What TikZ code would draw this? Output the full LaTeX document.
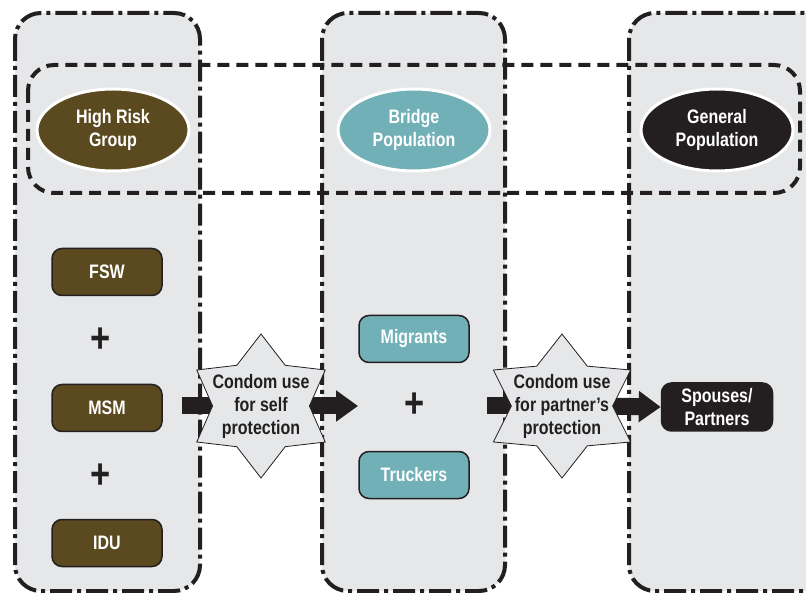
\documentclass[tikz,border=0pt]{standalone}
\usepackage{fontspec}
\setmainfont[FakeStretch=0.82]{Liberation Sans}
\usetikzlibrary{arrows.meta,calc,shapes.geometric}
\definecolor{colgray}{HTML}{E6E7E8}
\definecolor{hrbrown}{HTML}{5B4A1F}
\definecolor{tealc}{HTML}{70B0B6}
\definecolor{ink}{HTML}{231F20}
\begin{document}
\begin{tikzpicture}[x=1pt,y=-1pt,
  column/.style={fill=colgray, draw=ink, line width=4pt, rounded corners=26pt,
    dash pattern=on 22pt off 5pt on 4pt off 5pt},
  band/.style={draw=ink, line width=4pt, rounded corners=26pt, dash pattern=on 12pt off 7pt},
  lbl/.style={font=\bfseries\fontsize{19.5}{23}\selectfont, align=center},
  oval/.style={ellipse, minimum width=152pt, minimum height=82pt, inner sep=0pt,
    draw=white, line width=3pt, text=white, lbl},
  grpbox/.style={rounded corners=10pt, minimum width=110pt, minimum height=47pt,
    draw=ink, line width=1.5pt, text=white, lbl, inner sep=0pt},
  plus/.style={font=\bfseries\fontsize{42}{42}\selectfont, text=ink, inner sep=0pt},
  starfill/.style={fill=colgray, draw=ink, line width=0.8pt},
  block/.style={draw=ink, line width=17pt, line cap=butt},
  blockarrow/.style={block, -{Triangle[length=22pt,width=30pt]}}
]
\useasboundingbox (0,0) rectangle (806,593);
\begin{scope}
\clip (0,0) rectangle (806,593);
\draw[column] (15,13) rectangle (200,591);
\draw[column] (322,13) rectangle (505,591);
\draw[column] (629,13) rectangle (830,591);
\draw[band] (28,65) rectangle (800,193);
\end{scope}

% top ovals
\node[oval, fill=hrbrown] (hrg) at (113,130) {High Risk\\Group};
\node[oval, fill=tealc] (bp) at (414,130) {Bridge\\Population};
\node[oval, fill=ink] (gp) at (717,130) {General\\Population};

% high risk group boxes
\node[grpbox, fill=hrbrown] (fsw) at (107,272) {FSW};
\node[plus] (p1) at (101,340) {+};
\node[grpbox, fill=hrbrown] (msm) at (107,408) {MSM};
\node[plus] (p2) at (101,476) {+};
\node[grpbox, fill=hrbrown] (idu) at (107,543) {IDU};

% bridge boxes
\node[grpbox, fill=tealc] (mig) at (414,339) {Migrants};
\node[plus] (p3) at (415,405) {+};
\node[grpbox, fill=tealc] (tru) at (414,475) {Truckers};

% general
\node[grpbox, fill=ink, minimum width=111pt, minimum height=48pt] (sp) at (717,407) {Spouses/\\Partners};

% star centres
\coordinate (s1) at (261,406);
\coordinate (s2) at (562,406);
\coordinate (a1) at (182,406);
\coordinate (a2) at (487,406);
\coordinate (t1) at (358,406);

% arrows
\draw[block] (a1) -- ($(s1)+(-40,0)$);
\draw[blockarrow] ($(s1)+(40,0)$) -- (t1);
\draw[block] (a2) -- ($(s2)+(-40,0)$);
\draw[blockarrow] ($(s2)+(40,0)$) -- (sp.west);

% stars
\foreach \c/\sx/\ri in {s1/1.03/47, s2/1.1/46}{
  \begin{scope}[shift={(\c)}, xscale=\sx]
  \draw[starfill] (0:\ri) -- (30:72) -- (60:\ri) -- (90:72)
    -- (120:\ri) -- (150:72) -- (180:\ri) -- (210:72)
    -- (240:\ri) -- (270:72) -- (300:\ri) -- (330:72) -- cycle;
  \end{scope}
}
\node[lbl, text=ink] (st1) at (s1) {Condom use\\for self\\protection};
\node[lbl, text=ink] (st2) at (s2) {Condom use\\for partner’s\\protection};
\end{tikzpicture}
\end{document}
